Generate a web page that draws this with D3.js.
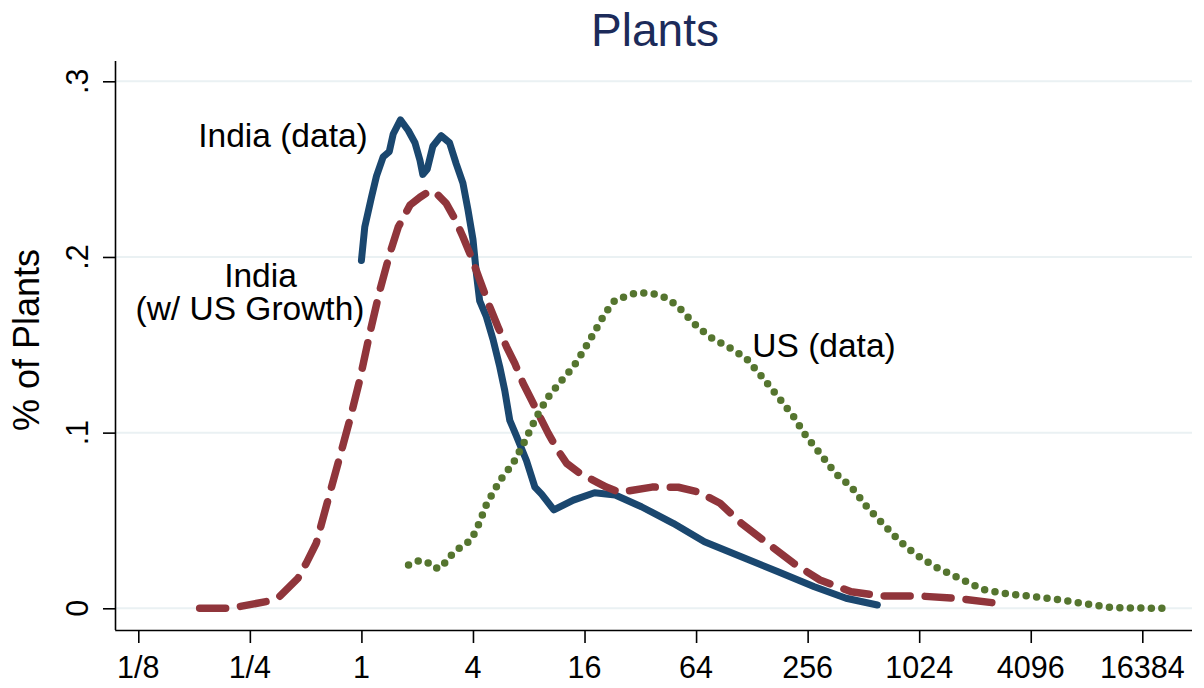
<!DOCTYPE html>
<html>
<head>
<meta charset="utf-8">
<script src="https://cdn.jsdelivr.net/npm/d3@7"></script>
<style>
  body { margin: 0; background: #ffffff; }
  svg { display: block; }
  text { font-family: "Liberation Sans", Arial, Helvetica, sans-serif; }
</style>
</head>
<body>
<svg id="chart" width="1204" height="688"></svg>
<script>
// Axis ticks: x is plant size on a log scale (stored as log2 of employees)
const xTickLog2 = [-4, -2, 0, 2, 4, 6, 8, 10, 12, 14];
const xTickLabels = ["1/8", "1/4", "1", "4", "16", "64", "256", "1024", "4096", "16384"];
const yTickValues = [0, 0.1, 0.2, 0.3];
const yTickLabels = ["0", ".1", ".2", ".3"];

// India (data)
const indiaLog2Size = [0.0, 0.06, 0.18, 0.27, 0.39, 0.50, 0.57, 0.70, 0.84, 0.96, 1.05, 1.10, 1.18, 1.28,
  1.43, 1.58, 1.70, 1.82, 1.91, 2.00, 2.06, 2.12, 2.24, 2.36, 2.48, 2.57, 2.66, 2.78, 2.96, 3.11,
  3.23, 3.45, 3.80, 4.18, 4.55, 5.02, 5.59, 6.15, 6.81, 7.47, 8.12, 8.69, 9.25];
const indiaShare = [0.198, 0.217, 0.234, 0.246, 0.257, 0.260, 0.270, 0.278, 0.272, 0.265, 0.255, 0.247,
  0.250, 0.263, 0.269, 0.265, 0.253, 0.242, 0.227, 0.210, 0.191, 0.175, 0.166, 0.153, 0.1375, 0.124,
  0.107, 0.098, 0.084, 0.069, 0.065, 0.056, 0.0616, 0.0658, 0.0645, 0.0578, 0.0484, 0.0379, 0.0294,
  0.0208, 0.0123, 0.0057, 0.0019];

// India (w/ US Growth)
const indiaUSLog2Size = [-2.90, -2.33, -2.18, -1.68, -1.47, -1.14, -0.99, -0.81, -0.60, -0.39, -0.21, -0.03,
  0.15, 0.33, 0.51, 0.66, 0.87, 1.05, 1.23, 1.35, 1.52, 1.67, 1.82, 1.97, 2.12, 2.30, 2.45, 2.60, 2.75,
  2.90, 3.05, 3.20, 3.35, 3.50, 3.68, 3.92, 4.15, 4.39, 4.63, 5.21, 5.68, 6.06, 6.43, 6.81, 7.28, 7.75,
  8.22, 8.78, 9.34, 10.00, 10.66, 11.41];
const indiaUSShare = [0.0, 0.0, 0.001, 0.004, 0.0066, 0.017, 0.0256, 0.037, 0.0616, 0.086, 0.107, 0.130,
  0.1565, 0.181, 0.202, 0.217, 0.2295, 0.234, 0.2377, 0.236, 0.2305, 0.222, 0.2115, 0.200, 0.187, 0.1717,
  0.160, 0.149, 0.1394, 0.128, 0.1186, 0.109, 0.0996, 0.091, 0.0825, 0.0768, 0.073, 0.069, 0.066, 0.069,
  0.0689, 0.066, 0.0598, 0.0484, 0.037, 0.0256, 0.0161, 0.0094, 0.007, 0.007, 0.0057, 0.0028];

// US (data)
const usLog2Size = [0.845, 1.03, 1.17, 1.31, 1.44, 1.55, 1.78, 1.97, 2.11, 2.25, 2.49, 2.72, 2.91, 3.14,
  3.33, 3.57, 3.80, 3.99, 4.18, 4.37, 4.55, 4.93, 5.21, 5.49, 5.68, 5.96, 6.24, 6.62, 6.90, 7.18, 7.47,
  7.75, 7.98, 8.22, 8.50, 8.78, 9.06, 9.34, 9.63, 9.91, 10.28, 10.66, 11.13, 11.60, 12.16, 12.54, 13.01,
  13.48, 14.37];
const usShare = [0.0246, 0.0271, 0.0265, 0.0228, 0.0231, 0.0285, 0.035, 0.0389, 0.0484, 0.0598, 0.073,
  0.0825, 0.0939, 0.109, 0.1195, 0.129, 0.1375, 0.147, 0.1574, 0.168, 0.1755, 0.1796, 0.1793, 0.1764,
  0.1717, 0.1622, 0.1546, 0.148, 0.1423, 0.1318, 0.1204, 0.109, 0.0977, 0.0882, 0.0768, 0.0692, 0.0578,
  0.0484, 0.0389, 0.0313, 0.0237, 0.018, 0.0108, 0.0081, 0.0063, 0.0047, 0.0024, 0.0003, 0.0];

const svg = d3.select("#chart");
svg.append("rect").attr("width", 1204).attr("height", 688).attr("fill", "#ffffff");

const x = d3.scaleLinear().domain([-4, 14]).range([138.3, 1142.3]);
const y = d3.scaleLinear().domain([0, 0.3]).range([608.3, 81.3]);

const axisLeftX = 116;
const axisBottomY = 630;
const xMax = x.invert(1192);

// Horizontal grid lines
svg.append("g")
  .selectAll("line")
  .data(yTickValues)
  .join("line")
  .attr("x1", axisLeftX).attr("x2", x(xMax))
  .attr("y1", d => y(d)).attr("y2", d => y(d))
  .attr("stroke", "#eaf1f3").attr("stroke-width", 2);

// Y axis
const yAxis = d3.axisLeft(y).tickValues(yTickValues).tickSize(13).tickFormat("");
const gy = svg.append("g").attr("transform", `translate(${axisLeftX},0)`).call(yAxis);
gy.select(".domain").attr("d", `M-0.5,${61}V${axisBottomY}`).attr("stroke", "#000").attr("stroke-width", 1.6);
gy.selectAll(".tick line").attr("stroke", "#000").attr("stroke-width", 1.6);
svg.append("g")
  .selectAll("text")
  .data(yTickValues)
  .join("text")
  .attr("transform", d => `translate(88,${y(d)}) rotate(-90)`)
  .attr("text-anchor", "middle")
  .attr("font-size", 30.5)
  .attr("fill", "#000")
  .text((d, i) => yTickLabels[i]);

// X axis
const xAxis = d3.axisBottom(x).tickValues(xTickLog2).tickSize(13).tickFormat("");
const gx = svg.append("g").attr("transform", `translate(0,${axisBottomY})`).call(xAxis);
gx.select(".domain").attr("d", `M${axisLeftX - 0.8},0.5H${x(xMax)}`).attr("stroke", "#000").attr("stroke-width", 1.6);
gx.selectAll(".tick line").attr("stroke", "#000").attr("stroke-width", 1.6);
svg.append("g")
  .selectAll("text")
  .data(xTickLog2)
  .join("text")
  .attr("x", d => x(d))
  .attr("y", 678)
  .attr("text-anchor", "middle")
  .attr("font-size", 30.5)
  .attr("fill", "#000")
  .text((d, i) => xTickLabels[i]);

// Axis title and chart title
svg.append("text")
  .attr("transform", "translate(39,340) rotate(-90)")
  .attr("text-anchor", "middle")
  .attr("font-size", 36)
  .attr("fill", "#000")
  .text("% of Plants");

svg.append("text")
  .attr("x", 655).attr("y", 46)
  .attr("text-anchor", "middle")
  .attr("font-size", 46)
  .attr("fill", "#1c2b5a")
  .text("Plants");

// Density curves
const line = d3.line().x(d => x(d[0])).y(d => y(d[1]));
const zip = (a, b) => a.map((v, i) => [v, b[i]]);

svg.append("path")
  .datum(zip(indiaLog2Size, indiaShare))
  .attr("d", line)
  .attr("fill", "none")
  .attr("stroke", "#1a476f")
  .attr("stroke-width", 7)
  .attr("stroke-linejoin", "round")
  .attr("stroke-linecap", "round");

svg.append("path")
  .datum(zip(indiaUSLog2Size, indiaUSShare))
  .attr("d", line)
  .attr("fill", "none")
  .attr("stroke", "#90353b")
  .attr("stroke-width", 7.5)
  .attr("stroke-dasharray", "26 15")
  .attr("stroke-linejoin", "round")
  .attr("stroke-linecap", "round");

svg.append("path")
  .datum(zip(usLog2Size, usShare))
  .attr("d", line)
  .attr("fill", "none")
  .attr("stroke", "#55752f")
  .attr("stroke-width", 7.5)
  .attr("stroke-dasharray", "0 10.5")
  .attr("stroke-linejoin", "round")
  .attr("stroke-linecap", "round");

// Series labels
const labels = [
  { lines: ["India (data)"], cx: 283, y: 147 },
  { lines: ["India", "(w/ US Growth)"], cx: [260.5, 250], y: 286.5, dy: 33.5 },
  { lines: ["US (data)"], cx: 824, y: 357 }
];
labels.forEach(l => {
  l.lines.forEach((t, i) => {
    svg.append("text")
      .attr("x", Array.isArray(l.cx) ? l.cx[i] : l.cx)
      .attr("y", l.y + i * (l.dy || 0))
      .attr("text-anchor", "middle")
      .attr("font-size", 33.5)
      .attr("fill", "#000")
      .text(t);
  });
});
</script>
</body>
</html>
